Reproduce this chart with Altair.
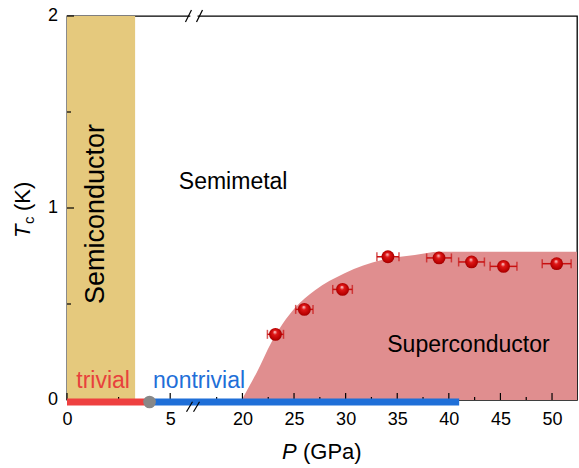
import altair as alt
import pandas as pd

# ---------------- data ----------------
P_pts = [23.2, 26.0, 29.7, 34.1, 39.05, 42.2, 45.3, 50.45]
Tc_pts = [0.342, 0.472, 0.576, 0.746, 0.740, 0.719, 0.696, 0.710]
P_err = [0.78, 0.84, 0.95, 1.07, 1.20, 1.25, 1.30, 1.40]

sc_P = [19.93, 21.4, 22.8, 25.1, 27.0, 29.9, 33.5, 36.7, 39.1, 52.42]
sc_Tc = [0.0, 0.145, 0.3, 0.48, 0.57, 0.66, 0.729, 0.755, 0.772, 0.772]

semicond_P = [0.0, 3.3]
trivial_P = [0.0, 4.0]
nontrivial_P = [4.0, 41.0]
transition_P = [4.0]

tick_major_P = [0, 5, 20, 25, 30, 35, 40, 45, 50]
tick_minor_P = [2.5, 17.5, 22.5, 27.5, 32.5, 37.5, 42.5, 47.5]
ytick_major = [0, 1, 2]
ytick_minor = [0.5, 1.5]

labels_text = ["Semimetal", "Superconductor", "trivial", "nontrivial"]
labels_P = [19.1, 41.9, 1.75, 15.8]
labels_Tc = [1.097, 0.2516, 0.06, 0.06]
labels_color = ["#000000", "#000000", "#E8413C", "#1F6FD8"]

# ---------------- broken axis mapping ----------------
BREAK_LEFT = 6.25   # left segment ends (GPa)
U_MAX = 49.42


def to_u(p):
    return 2 * p if p <= BREAK_LEFT else p - 3


FONT = "Liberation Sans"
xs = alt.Scale(domain=[0, U_MAX], nice=False, zero=False)
ys = alt.Scale(domain=[0, 2], nice=False, zero=False)

AX = alt.Axis(values=[to_u(p) for p in tick_major_P],
              labelExpr="datum.value < 12.5 ? format(datum.value/2, 'd') : format(datum.value + 3, 'd')",
              ticks=False, domain=False, grid=False, title=None,
              labelFlush=False, labelOverlap=False,
              labelFont=FONT, labelFontSize=18, labelColor="#000", labelPadding=10)

pts = pd.DataFrame({
    "u": [to_u(p) for p in P_pts],
    "lo": [to_u(p - e) for p, e in zip(P_pts, P_err)],
    "hi": [to_u(p + e) for p, e in zip(P_pts, P_err)],
    "Tc": Tc_pts,
})
sc = pd.DataFrame({"u": [to_u(p) for p in sc_P], "Tc": sc_Tc})
band = pd.DataFrame({"u": [to_u(semicond_P[0])], "u2": [to_u(semicond_P[1])]})
lines = pd.DataFrame({
    "u": [to_u(trivial_P[0]), to_u(nontrivial_P[0])],
    "u2": [to_u(trivial_P[1]), to_u(nontrivial_P[1])],
    "phase": ["trivial", "nontrivial"],
})
dot = pd.DataFrame({"u": [to_u(p) for p in transition_P], "Tc": [0.0]})
lab = pd.DataFrame({
    "u": [to_u(p) for p in labels_P],
    "Tc": labels_Tc,
    "text": labels_text,
    "color": labels_color,
})
xt_major = pd.DataFrame({"u": [to_u(p) for p in tick_major_P]})
xt_minor = pd.DataFrame({"u": [to_u(p) for p in tick_minor_P]})
yt_major = pd.DataFrame({"Tc": ytick_major, "lbl": [str(v) for v in ytick_major]})
yt_minor = pd.DataFrame({"Tc": ytick_minor})


def X(f="u"):
    return alt.X(f"{f}:Q", scale=xs, axis=AX)


def Y(f="Tc"):
    return alt.Y(f"{f}:Q", scale=ys, axis=None)


band_layer = alt.Chart(band).mark_rect(color="#E5C97D").encode(
    x=X(), x2="u2:Q", y=alt.value(0), y2=alt.value(384))

sc_layer = alt.Chart(sc).mark_area(color="#E08E8F", interpolate="monotone", opacity=1).encode(
    x=X(), y=Y())

text_layer = alt.Chart(lab).mark_text(font=FONT, fontSize=23, align="center",
                                      baseline="alphabetic").encode(
    x=X(), y=Y(), text="text:N", color=alt.Color("color:N", scale=None))

semi_text = alt.Chart(pd.DataFrame({"u": [to_u(1.41)], "Tc": [0.969],
                                    "t": ["Semiconductor"]})).mark_text(
    font=FONT, fontSize=27, angle=270, align="center", baseline="middle", color="#000"
).encode(x=X(), y=Y(), text="t:N")

xtick_major_layer = alt.Chart(xt_major).mark_rule(color="#000", strokeWidth=1.2).encode(
    x=X(), y=alt.value(384), y2=alt.value(377))
xtick_minor_layer = alt.Chart(xt_minor).mark_rule(color="#000", strokeWidth=1.2).encode(
    x=X(), y=alt.value(384), y2=alt.value(381))
ytick_major_layer = alt.Chart(yt_major).mark_rule(color="#000", strokeWidth=1.2).encode(
    y=Y(), x=alt.value(0), x2=alt.value(7))
ytick_minor_layer = alt.Chart(yt_minor).mark_rule(color="#000", strokeWidth=1.2).encode(
    y=Y(), x=alt.value(0), x2=alt.value(4))
ylabel_layer = alt.Chart(yt_major).mark_text(
    font=FONT, fontSize=18, align="right", baseline="middle", dx=-9, color="#000"
).encode(y=Y(), x=alt.value(0), text="lbl:N")

line_layer = alt.Chart(lines).mark_rule(strokeWidth=7, yOffset=2).encode(
    x=X(), x2="u2:Q", y=alt.value(384),
    color=alt.Color("phase:N", scale=alt.Scale(domain=["trivial", "nontrivial"],
                                               range=["#EE4040", "#1F6FD8"]), legend=None))

dot_layer = alt.Chart(dot).mark_circle(size=160, color="#888888", opacity=1, yOffset=2).encode(
    x=X(), y=Y())

err_layer = alt.Chart(pts).mark_rule(color="#C81010", strokeWidth=1.5).encode(
    x=X("lo"), x2="hi:Q", y=Y())
cap_lo = alt.Chart(pts).mark_tick(color="#C81010", orient="vertical", size=9, thickness=1.5).encode(
    x=X("lo"), y=Y())
cap_hi = alt.Chart(pts).mark_tick(color="#C81010", orient="vertical", size=9, thickness=1.5).encode(
    x=X("hi"), y=Y())

ball = alt.RadialGradient(
    gradient="radial",
    stops=[alt.GradientStop(color="#FFE0E0", offset=0.0),
           alt.GradientStop(color="#E01818", offset=0.32),
           alt.GradientStop(color="#B80000", offset=0.8),
           alt.GradientStop(color="#900000", offset=1.0)],
    x1=0.45, y1=0.3, r1=0.0, x2=0.5, y2=0.5, r2=0.55)
pt_layer = alt.Chart(pts).mark_circle(size=165, color=ball, opacity=1).encode(x=X(), y=Y())

# axis break marks
gap = pd.DataFrame({"u": [11.95], "u2": [12.65], "Tc": [2.0]})
gap_layer = alt.Chart(gap).mark_rule(color="white", strokeWidth=4).encode(x=X(), x2="u2:Q", y=Y())
slashes = pd.DataFrame({
    "u": [11.48, 12.55, 11.58, 12.26],
    "u2": [12.06, 13.13, 12.16, 12.84],
    "Tc": [1.969, 1.969, -0.061, -0.061],
    "Tc2": [2.031, 2.031, -0.009, -0.009],
})
slash_layer = alt.Chart(slashes).mark_rule(color="#000", strokeWidth=1.2).encode(
    x=X(), x2="u2:Q", y=Y(), y2="Tc2:Q")

# axis titles with italic symbols
one = pd.DataFrame({"a": [0]})


def title_text(t, x, y, size, italic=False, angle=0, align="left"):
    return alt.Chart(one).mark_text(
        text=t, font=FONT, fontSize=size, fontStyle="italic" if italic else "normal",
        angle=angle, align=align, baseline="alphabetic", color="#000"
    ).encode(x=alt.value(x), y=alt.value(y))


xt1 = title_text("P", 215, 443, 22, italic=True)
xt2 = title_text("(GPa)", 236, 443, 22)
yt1 = title_text("T", -37, 222, 22, italic=True, angle=270)
yt2 = title_text("c", -33, 208, 15, angle=270)
yt3 = title_text("(K)", -37, 195, 22, angle=270)

chart = alt.layer(
    band_layer, sc_layer, text_layer, semi_text,
    xtick_major_layer, xtick_minor_layer, ytick_major_layer, ytick_minor_layer, ylabel_layer,
    line_layer, dot_layer, err_layer, cap_lo, cap_hi, pt_layer,
    gap_layer, slash_layer, xt1, xt2, yt1, yt2, yt3,
).properties(
    width=510, height=384,
    padding={"left": 67, "top": 16, "right": 2, "bottom": 68},
    autosize=alt.AutoSizeParams(type="none"),
).configure_view(stroke="#000", strokeWidth=1.3)

chart.save("out.html", embed_options={"renderer": "svg", "actions": False})
